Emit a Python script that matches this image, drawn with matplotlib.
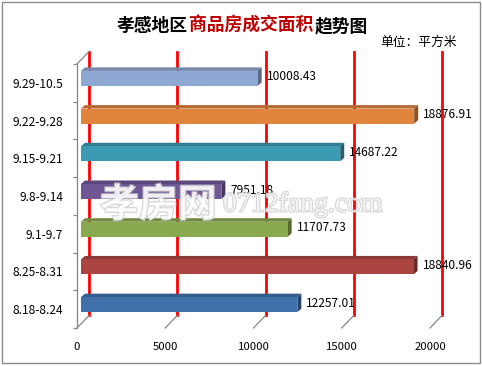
import matplotlib.pyplot as plt
import matplotlib.patheffects as pe
from matplotlib.patches import Polygon, Rectangle
import numpy as np

plt.rcParams['font.family'] = ['Noto Sans CJK SC', 'DejaVu Sans']

# data, bottom to top
weeks = ['8.18-8.24', '8.25-8.31', '9.1-9.7', '9.8-9.14',
         '9.15-9.21', '9.22-9.28', '9.29-10.5']
areas = [12257.01, 18840.96, 11707.73, 7951.18, 14687.22, 18876.91, 10008.43]
colors = ['#4070A9', '#AA4541', '#89A94F', '#6F5796', '#3C9AB3', '#E0843E', '#8FA7D3']
xticks = [0, 5000, 10000, 15000, 20000]

W, H = 482, 366
fig = plt.figure(figsize=(W / 100, H / 100), dpi=100)
ax_l, ax_b, ax_w, ax_h = 77, 38, 353, 264
xmax = 20000
gc = '#868686'

ax = fig.add_axes([ax_l / W, ax_b / H, ax_w / W, ax_h / H])
ax.set_xlim(0, xmax)
ax.set_ylim(-0.5, len(weeks) - 0.5)

px = xmax / ax_w
py = len(weeks) / ax_h

dx, dy = 12 * px, 12.5 * py
ybot, ytop = -0.5, len(weeks) - 0.5
for t in xticks:
    ax.plot([t + dx, t + dx], [ybot + dy, ytop + dy], color='red', lw=2,
            clip_on=False, zorder=1)
    ax.plot([t, t + dx], [ybot, ybot + dy], color=gc, lw=0.9, clip_on=False, zorder=1)
ax.plot([0, dx], [ytop, ytop + dy], color=gc, lw=0.9, clip_on=False, zorder=1)

def shade(c, f):
    r, g, b = [int(c[i:i + 2], 16) / 255 for i in (1, 3, 5)]
    return (r * f, g * f, b * f)

bx, by = 4 * px, 4.5 * py
bh = 15 * py
ddx, ddy = 4 * px, 3.5 * py
for i, (v, c) in enumerate(zip(areas, colors)):
    y0 = i + by - bh / 2
    y1 = i + by + bh / 2
    x0 = bx
    x1 = v + bx
    ax.add_patch(Polygon([(x0, y1), (x1, y1), (x1 + ddx, y1 + ddy), (x0 + ddx, y1 + ddy)],
                         closed=True, fc=shade(c, 0.82), ec='none', clip_on=False, zorder=3))
    ax.add_patch(Polygon([(x1, y0), (x1 + ddx, y0 + ddy), (x1 + ddx, y1 + ddy), (x1, y1)],
                         closed=True, fc=shade(c, 0.62), ec='none', clip_on=False, zorder=3))
    ax.add_patch(Rectangle((x0, y0), x1 - x0, y1 - y0, fc=c, ec='none', clip_on=False, zorder=3))
    ax.text(v + 13 * px, i + 6 * py, f'{v:.2f}', va='center', ha='left',
            fontsize=8.6, color='black', zorder=5)

for s in ['top', 'right', 'bottom']:
    ax.spines[s].set_visible(False)
ax.spines['left'].set_color(gc)
ax.spines['left'].set_linewidth(0.9)
ax.set_yticks(range(len(weeks)))
ax.set_yticklabels(weeks, fontsize=8.6)
ax.set_yticks(np.arange(-0.5, len(weeks), 1), minor=True)
ax.tick_params(axis='y', which='major', length=0, pad=10)
ax.tick_params(axis='y', which='minor', length=3, color=gc, width=0.9)
ax.set_xticks(xticks)
ax.set_xticklabels([str(t) for t in xticks], fontsize=8.2)
ax.tick_params(axis='x', length=0, pad=10)
ax.patch.set_visible(False)

fs = 12.8
mid = fig.text(251 / W, (H - 26) / H, '商品房成交面积', fontsize=fs, fontweight='bold',
               color='#C00000', ha='center', va='center')
ax.annotate('孝感地区', xy=(0, 0.5), xycoords=mid, xytext=(-1.2, 0),
            textcoords='offset points', ha='right', va='center',
            fontsize=fs, fontweight='bold', color='black', annotation_clip=False)
ax.annotate('趋势图', xy=(1, 0.5), xycoords=mid, xytext=(1.2, 0),
            textcoords='offset points', ha='left', va='center',
            fontsize=fs, fontweight='bold', color='black', annotation_clip=False)
fig.text(380 / W, (H - 42) / H, '单位：平方米', fontsize=9.2, ha='left', va='center')

wm = [pe.withStroke(linewidth=1.5, foreground='#c4c4c4')]
fig.text(100 / W, (H - 205) / H, '孝房网', fontsize=28, fontweight='bold', color='white',
         alpha=0.7, ha='left', va='center', path_effects=wm, zorder=6)
fig.text(223 / W, (H - 205) / H, '0712fang.com', fontsize=20, family='Liberation Serif',
         color='white', alpha=0.7, ha='left', va='center', path_effects=wm, zorder=6)

fig.add_artist(Rectangle((2 / W, 3 / H), (W - 4) / W, (H - 5) / H, transform=fig.transFigure,
                         fill=False, ec='#8c8c8c', lw=1, zorder=-1))

fig.savefig('out.png', dpi=100)
